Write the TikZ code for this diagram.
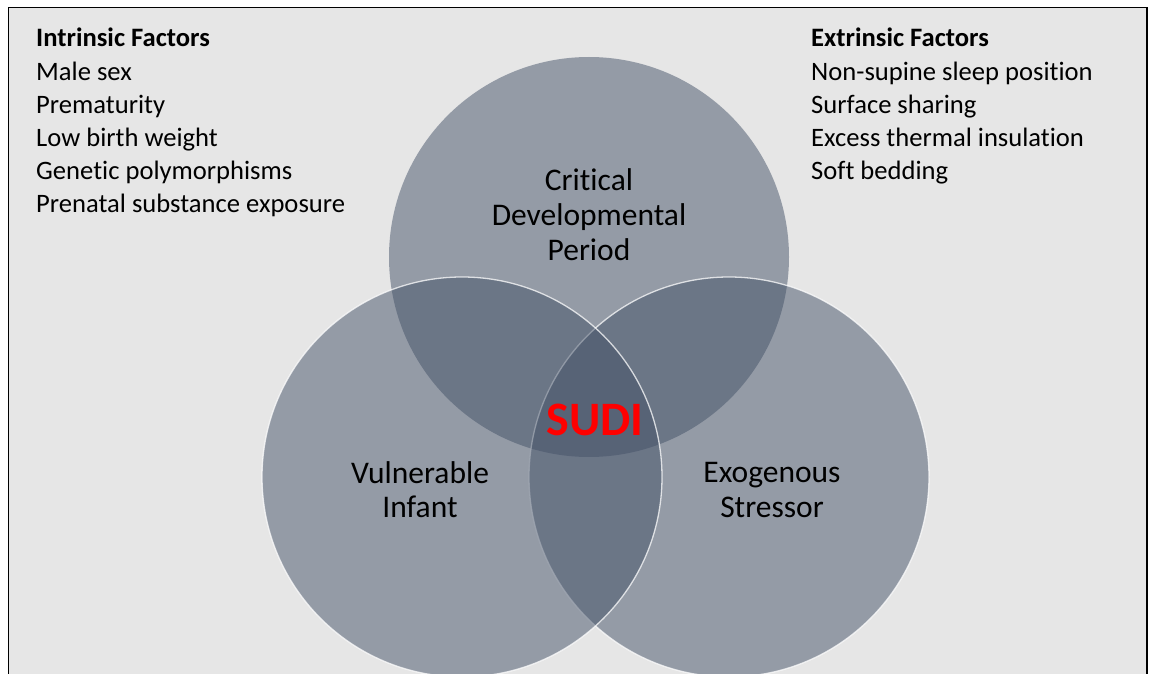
\documentclass[tikz,border=0pt]{standalone}
\usepackage{fontspec}
\setmainfont{Carlito}[Ligatures=NoCommon]
\definecolor{bggrey}{RGB}{230,230,230}
\definecolor{vennfill}{RGB}{68,82,104}
\definecolor{sudired}{RGB}{255,0,0}
\tikzset{
  listtext/.style={anchor=base west, inner sep=0pt, font=\fontsize{26.6}{33}\selectfont},
  listhead/.style={listtext, font=\fontsize{26.6}{33}\selectfont\bfseries},
  venncircle/.style={circle, minimum size=400pt, inner sep=0pt, fill=vennfill, fill opacity=0.5},
  vennedge/.style={venncircle, draw=white, draw opacity=0.75, line width=1.3pt},
  vennlabel/.style={anchor=base, inner sep=0pt, font=\fontsize{31.5}{35}\selectfont, text=black}
}
\begin{document}
\begin{tikzpicture}[x=1pt,y=-1pt]
\useasboundingbox (0,0) rectangle (1149,674);
\fill[white] (0,0) rectangle (1149,674);
\begin{scope}
\clip (0,0) rectangle (1149,674);
\fill[bggrey] (8.5,7.5) rectangle (1147,680);
\draw[black, line width=1.6pt] (8.5,680) -- (8.5,7.5) -- (1147,7.5) -- (1147,680);
% circles
\node[venncircle] (crit) at (589,257) {};
\node[vennedge] (exo) at (729,477) {};
\node[vennedge] (vuln) at (462,477) {};
\end{scope}
% labels
\node[vennlabel] (crit1) at (589,190) {Critical};
\node[vennlabel] (crit2) at (589,225) {Developmental};
\node[vennlabel] (crit3) at (589,260) {Period};
\node[vennlabel] (vuln1) at (420,483) {Vulnerable};
\node[vennlabel] (vuln2) at (420,517) {Infant};
\node[vennlabel] (exo1) at (772,482) {Exogenous};
\node[vennlabel] (exo2) at (772,517) {Stressor};
\node[anchor=base, inner sep=0pt, text=sudired, font=\fontsize{48}{56}\selectfont\bfseries] (sudi) at (595,435) {SUDI};
% intrinsic list
\node[listhead] (inhead) at (36,47) {Intrinsic Factors};
\node[listtext] (in1) at (36,80.5) {Male sex};
\node[listtext] (in2) at (36,113.5) {Prematurity};
\node[listtext] (in3) at (36,146.5) {Low birth weight};
\node[listtext] (in4) at (36,179) {Genetic polymorphisms};
\node[listtext] (in5) at (36,212) {Prenatal substance exposure};
% extrinsic list
\node[listhead] (exhead) at (811,47) {Extrinsic Factors};
\node[listtext] (ex1) at (811,80.5) {Non-supine sleep position};
\node[listtext] (ex2) at (811,113.5) {Surface sharing};
\node[listtext] (ex3) at (811,146.5) {Excess thermal insulation};
\node[listtext] (ex4) at (811,179) {Soft bedding};
\end{tikzpicture}
\end{document}
